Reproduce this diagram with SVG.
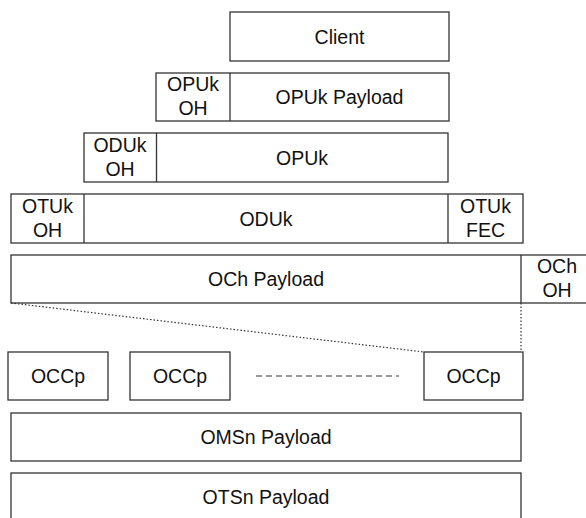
<svg xmlns="http://www.w3.org/2000/svg" width="586" height="518" viewBox="0 0 586 518">
<style>
rect,line.sep{fill:#fff;stroke:#333;stroke-width:1.3}
line.sep{fill:none}
text{font-family:"Liberation Sans",Arial,sans-serif;font-size:19.5px;fill:#111;text-anchor:middle}
.dot{stroke:#333;stroke-width:1.2;stroke-dasharray:1.5 2;fill:none}
.dash{stroke:#333;stroke-width:1.2;stroke-dasharray:6 4;fill:none}
</style>
<rect x="0" y="0" width="586" height="518" style="stroke:none;fill:#fff"/>
<g id="client">
<rect x="230" y="12" width="219" height="49"/>
<text x="339.5" y="43.5">Client</text>
</g>
<g id="opuk">
<rect x="156" y="73" width="293" height="48"/>
<line class="sep" x1="230" y1="73" x2="230" y2="121"/>
<text x="193" y="91">OPUk</text>
<text x="193" y="115">OH</text>
<text x="339.5" y="104">OPUk Payload</text>
</g>
<g id="oduk">
<rect x="84" y="133" width="364" height="49"/>
<line class="sep" x1="156.5" y1="133" x2="156.5" y2="182"/>
<text x="120" y="151.5">ODUk</text>
<text x="120" y="175.5">OH</text>
<text x="302" y="164.5">OPUk</text>
</g>
<g id="otuk">
<rect x="11" y="194" width="512" height="49"/>
<line class="sep" x1="84" y1="194" x2="84" y2="243"/>
<line class="sep" x1="448" y1="194" x2="448" y2="243"/>
<text x="47.5" y="212.5">OTUk</text>
<text x="47.5" y="236.5">OH</text>
<text x="266" y="225.5">ODUk</text>
<text x="485.5" y="212.5">OTUk</text>
<text x="485.5" y="236.5">FEC</text>
</g>
<g id="och">
<rect x="11" y="255" width="582" height="48"/>
<line class="sep" x1="521" y1="255" x2="521" y2="303"/>
<text x="266" y="286">OCh Payload</text>
<text x="557" y="273">OCh</text>
<text x="557" y="297">OH</text>
</g>
<g id="occp1">
<rect x="8" y="352" width="100" height="48"/>
<text x="58" y="383">OCCp</text>
</g>
<g id="occp2">
<rect x="130" y="352" width="100" height="48"/>
<text x="180" y="383">OCCp</text>
</g>
<g id="occp3">
<rect x="424" y="352" width="99" height="48"/>
<text x="473.5" y="383">OCCp</text>
</g>
<g id="omsn">
<rect x="11" y="413" width="510" height="48"/>
<text x="266" y="444">OMSn Payload</text>
</g>
<g id="otsn">
<rect x="11" y="473" width="510" height="48"/>
<text x="266" y="504">OTSn Payload</text>
</g>
<g id="connectors">
<line class="dot" x1="11" y1="303" x2="424" y2="352"/>
<line class="dot" x1="521" y1="303" x2="521" y2="352"/>
<line class="dash" x1="256" y1="376" x2="399" y2="376"/>
</g>
</svg>
